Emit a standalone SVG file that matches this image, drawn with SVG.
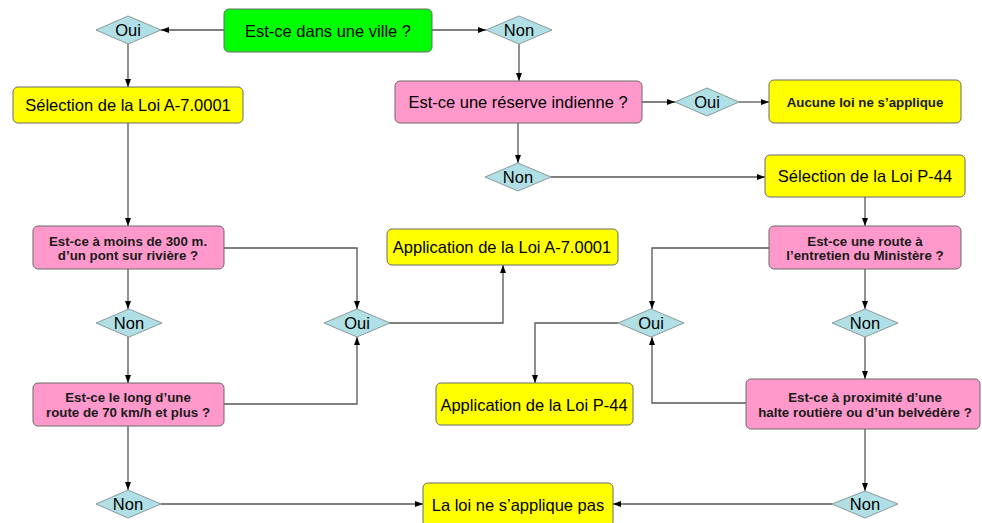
<svg xmlns="http://www.w3.org/2000/svg" width="982" height="523" viewBox="0 0 982 523">
<style>
.g{fill:#00ff00;stroke:#6a6a6a;stroke-width:1}
.y{fill:#ffff00;stroke:#6a6a6a;stroke-width:1}
.p{fill:#ff99cc;stroke:#6a6a6a;stroke-width:1}
.d{fill:#b0e0e6;stroke:#8a9a9c;stroke-width:1}
.t{font-family:"Liberation Sans",Arial,sans-serif;font-size:16.5px;fill:#000;text-anchor:middle;dominant-baseline:central}
.s{font-family:"Liberation Sans",Arial,sans-serif;font-size:13.3px;font-weight:bold;fill:#1a1a1a;text-anchor:middle}
.c path{fill:none;stroke:#555;stroke-width:1.3;marker-end:url(#a)}
</style>
<defs>
<marker id="a" viewBox="0 0 8 8" refX="8" refY="4" markerWidth="8" markerHeight="8" markerUnits="userSpaceOnUse" orient="auto">
<path d="M0,1 L8,4 L0,7 Z" fill="#000"/>
</marker>
</defs>
<rect width="982" height="523" fill="#fff"/>
<g class="c">
<path d="M224,30 H161"/>
<path d="M432,30 H486"/>
<path d="M128,44 V87"/>
<path d="M519,44 V81"/>
<path d="M642,102 H675"/>
<path d="M739,102 H769"/>
<path d="M518,123 V163"/>
<path d="M551,177 H765"/>
<path d="M128,123 V226"/>
<path d="M128,269 V309"/>
<path d="M128,337 V383"/>
<path d="M224,248 H357 V309"/>
<path d="M224,404 H357 V337"/>
<path d="M389,323 H503 V265"/>
<path d="M865,197 V226"/>
<path d="M769,248 H652 V309"/>
<path d="M865,269 V309"/>
<path d="M865,337 V379"/>
<path d="M746,403 H652 V337"/>
<path d="M618,323 H535 V383"/>
<path d="M128,426 V490"/>
<path d="M161,504 H423"/>
<path d="M865,429 V491"/>
<path d="M832,504 H613"/>
</g>
<g id="ville"><rect class="g" x="224" y="9" width="208" height="43" rx="5"/><text class="t" x="328" y="31">Est-ce dans une ville ?</text></g>
<g id="oui1"><polygon class="d" points="96,30 128,16 161,30 128,44"/><text class="t" x="128" y="30">Oui</text></g>
<g id="non1"><polygon class="d" points="486,30 519,16 552,30 519,44"/><text class="t" x="519" y="30">Non</text></g>
<g id="selA"><rect class="y" x="13" y="87" width="230" height="36" rx="5"/><text class="t" x="128" y="105">Sélection de la Loi A-7.0001</text></g>
<g id="reserve"><rect class="p" x="395" y="81" width="247" height="42" rx="5"/><text class="t" x="518" y="102">Est-ce une réserve indienne ?</text></g>
<g id="oui2"><polygon class="d" points="675,102 707,88 739,102 707,116"/><text class="t" x="707" y="102">Oui</text></g>
<g id="aucune"><rect class="y" x="769" y="80" width="192" height="43" rx="5"/><text class="s" x="865" y="107">Aucune loi ne s’applique</text></g>
<g id="non2"><polygon class="d" points="485,177 518,163 551,177 518,191"/><text class="t" x="518" y="177">Non</text></g>
<g id="selP"><rect class="y" x="765" y="155" width="200" height="42" rx="5"/><text class="t" x="865" y="176">Sélection de la Loi P-44</text></g>
<g id="pont"><rect class="p" x="33" y="226" width="191" height="43" rx="5"/><text class="s" x="128" y="246">Est-ce à moins de 300 m.</text><text class="s" x="128" y="260">d’un pont sur rivière ?</text></g>
<g id="non3"><polygon class="d" points="96,323 129,309 162,323 129,337"/><text class="t" x="129" y="323">Non</text></g>
<g id="route70"><rect class="p" x="33" y="383" width="191" height="43" rx="5"/><text class="s" x="128" y="402">Est-ce le long d’une</text><text class="s" x="128" y="417">route de 70 km/h et plus ?</text></g>
<g id="oui3"><polygon class="d" points="324,323 357,309 390,323 357,337"/><text class="t" x="357" y="323">Oui</text></g>
<g id="appA"><rect class="y" x="387" y="229" width="231" height="36" rx="5"/><text class="t" x="502" y="247">Application de la Loi A-7.0001</text></g>
<g id="entretien"><rect class="p" x="769" y="226" width="192" height="43" rx="5"/><text class="s" x="865" y="246">Est-ce une route à</text><text class="s" x="865" y="260">l’entretien du Ministère ?</text></g>
<g id="oui4"><polygon class="d" points="618,323 651,309 684,323 651,337"/><text class="t" x="651" y="323">Oui</text></g>
<g id="non4"><polygon class="d" points="832,323 865,309 898,323 865,337"/><text class="t" x="865" y="323">Non</text></g>
<g id="proximite"><rect class="p" x="746" y="379" width="234" height="50" rx="5"/><text class="s" x="865" y="402">Est-ce à proximité d’une</text><text class="s" x="865" y="417">halte routière ou d’un belvédère ?</text></g>
<g id="appP"><rect class="y" x="436" y="383" width="197" height="42" rx="5"/><text class="t" x="534" y="405">Application de la Loi P-44</text></g>
<g id="non5"><polygon class="d" points="96,504 128,490 161,504 128,518"/><text class="t" x="128" y="504">Non</text></g>
<g id="pas"><rect class="y" x="423" y="483" width="190" height="44" rx="5"/><text class="t" x="518" y="505">La loi ne s’applique pas</text></g>
<g id="non6"><polygon class="d" points="832,504 865,491 898,504 865,518"/><text class="t" x="865" y="504">Non</text></g>
</svg>
